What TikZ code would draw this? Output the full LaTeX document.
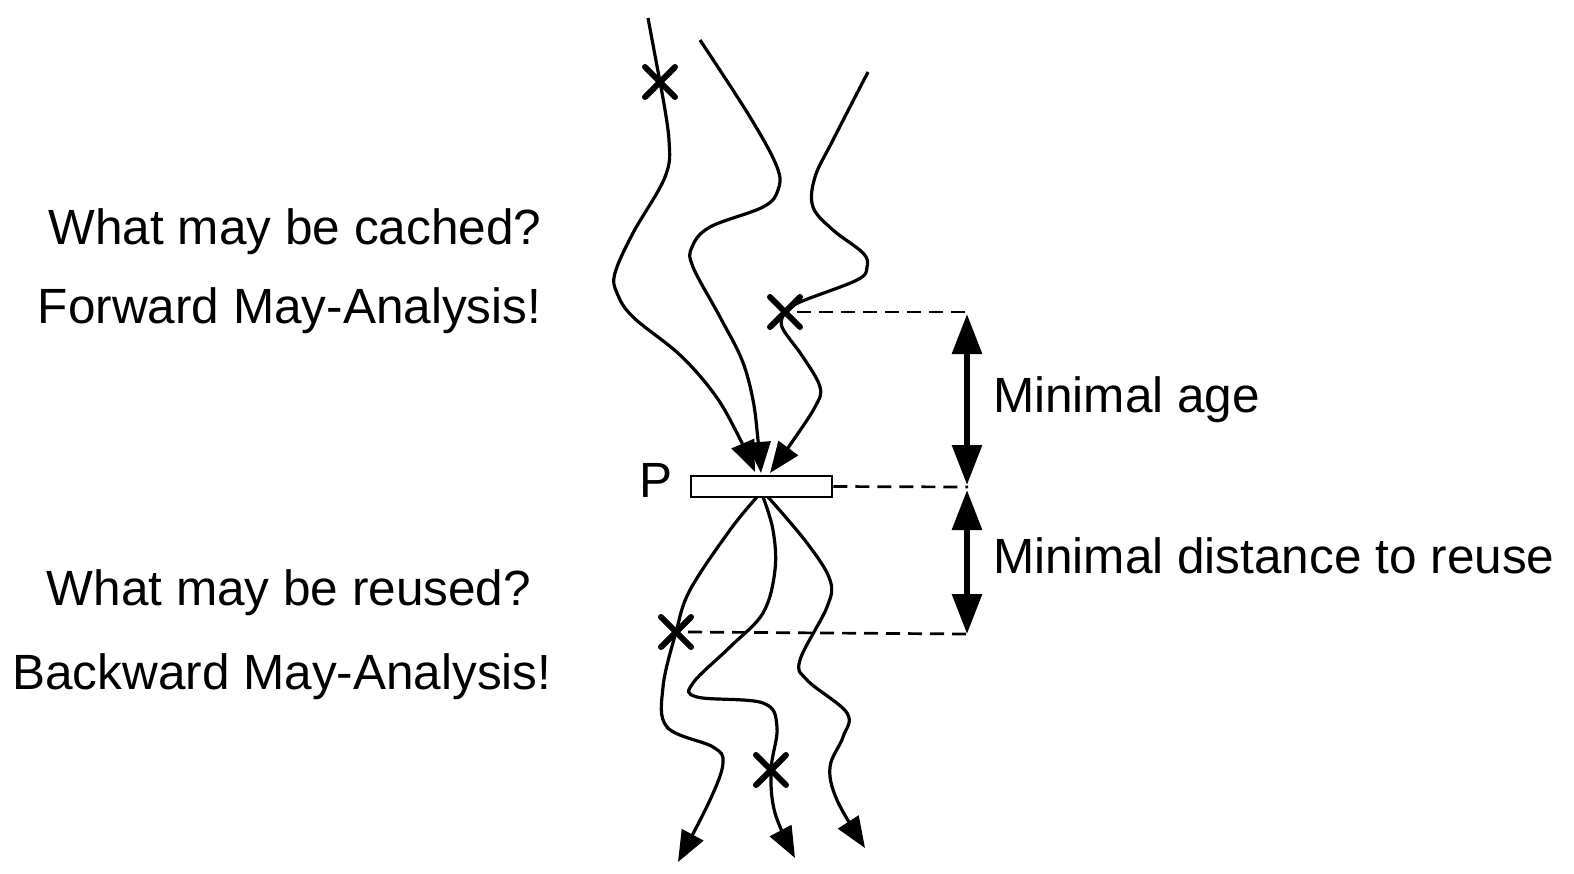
\documentclass[tikz,border=0pt]{standalone}
\usepackage{fontspec}
\setmainfont{Liberation Sans}
\usetikzlibrary{arrows.meta,shapes.misc}
\tikzset{
  wiggle/.style={line width=3.2pt},
  flow/.style={wiggle,-{Triangle[length=31pt,width=24pt]}},
  xmark/.style={cross out,draw,line width=6pt,line cap=round,minimum size=24pt,inner sep=0pt},
  guide/.style={line width=2.7pt,dash pattern=on 14pt off 8pt},
  span/.style={line width=6pt,{Triangle[length=40pt,width=29pt]}-{Triangle[length=40pt,width=29pt]}},
  lbl/.style={font=\fontsize{49.5}{58}\selectfont,anchor=base,inner sep=0pt},
  rlbl/.style={lbl,anchor=base west},
  box/.style={draw,line width=2.8pt,minimum width=141pt,minimum height=21pt,inner sep=0pt,fill=white}
}
\begin{document}
\begin{tikzpicture}[x=1pt,y=-1pt]
\useasboundingbox (0,0) rectangle (1574,873);
% P box
\node[box] (P) at (761.5,486.5) {};
\node[lbl] (Plbl) at (656,497) {P};
% x marks
\node[xmark] (x1) at (660,82) {};
\node[xmark] (x2) at (785,312) {};
\node[xmark] (x3) at (676,632) {};
\node[xmark] (x4) at (771,770) {};
% endpoints
\coordinate (a0) at (648,18);
\coordinate (b0) at (700,40);
\coordinate (c0) at (868,72);
\coordinate (ta) at (755,472);
\coordinate (tb) at (761,473);
\coordinate (tc) at (770,473);
\coordinate (sd) at (757,497);
\coordinate (se) at (763,497);
\coordinate (sf) at (768,497);
\coordinate (ed) at (678,862);
\coordinate (ee) at (795,858);
\coordinate (ef) at (865,848);
% incoming curves
\draw[wiggle] plot[smooth,tension=0.6] coordinates {(a0) (x1.center)};
\draw[flow] plot[smooth,tension=0.6] coordinates {(x1.center) (669,140) (665,177) (633,233) (615,273) (617,293) (633,317) (680,355) (715,395) (738,435) (ta)};
\draw[flow] plot[smooth,tension=0.6] coordinates {(b0) (750,117) (777,167) (778,190) (763,207) (710,227) (692,247) (693,267) (720,317) (742,360) (753,400) (758,440) (tb)};
\draw[wiggle] plot[smooth,tension=0.6] coordinates {(c0) (833,140) (815,177) (813,207) (833,230) (863,253) (867,267) (857,280) (800,302) (x2.center)};
\draw[flow] plot[smooth,tension=0.6] coordinates {(x2.center) (782,327) (803,357) (820,387) (815,407) (790,445) (tc)};
% outgoing curves
\draw[flow] plot[smooth,tension=0.6] coordinates {(sd) (730,530) (690,590) (x3.center) (663,687) (667,727) (713,747) (723,763) (710,800) (ed)};
\draw[flow] plot[smooth,tension=0.6] coordinates {(se) (773,530) (775,570) (763,613) (730,647) (693,683) (697,697) (763,703) (777,727) (x4.center) (775,813) (ee)};
\draw[flow] plot[smooth,tension=0.6] coordinates {(sf) (807,543) (830,580) (827,607) (800,660) (807,680) (847,713) (843,737) (830,767) (837,800) (ef)};
% guides
\coordinate (g1) at (965,312);
\coordinate (g2) at (968,487);
\coordinate (g3) at (968,634);
\draw[guide] (x2.center) ++(12,0) -- (g1);
\draw[guide] (P.east) -- (g2);
\draw[guide] (x3.center) ++(12,0) -- (g3);
\coordinate (s1) at (967,314);
\coordinate (s2) at (967,485);
\coordinate (s3) at (967,490);
\coordinate (s4) at (967,634);
\draw[span] (s1) -- (s2);
\draw[span] (s3) -- (s4);
% labels
\node[lbl] (t1) at (295,244) {What may be cached?};
\node[lbl] (t2) at (289.5,323) {Forward May-Analysis!};
\node[lbl] (t3) at (289,605) {What may be reused?};
\node[lbl] (t4) at (282,689) {Backward May-Analysis!};
\node[rlbl] (t5) at (993,412) {Minimal age};
\node[rlbl] (t6) at (993,573) {Minimal distance to reuse};
\end{tikzpicture}
\end{document}
